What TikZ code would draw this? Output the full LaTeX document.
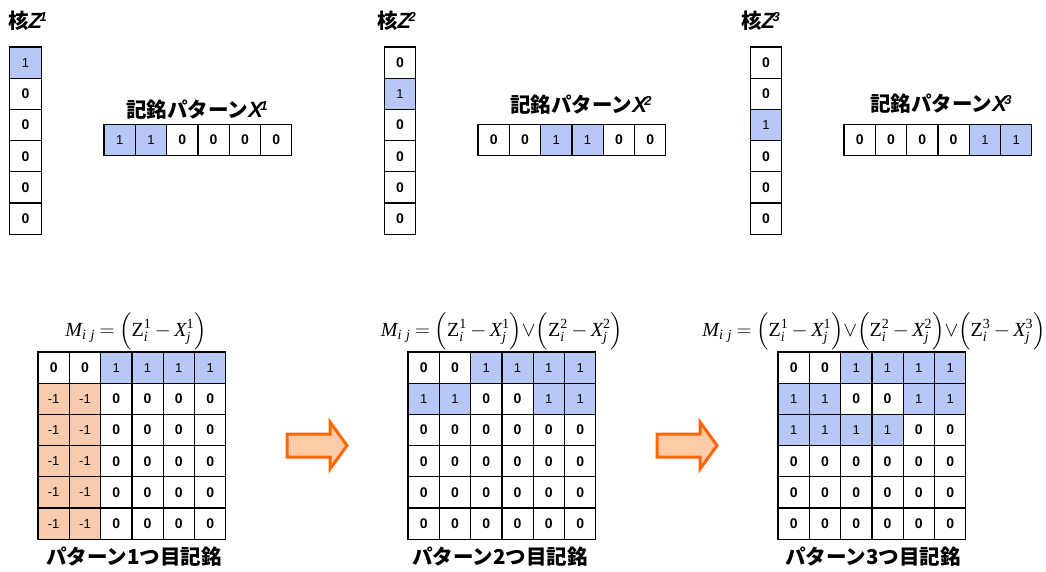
\documentclass[tikz,border=0pt]{standalone}
\usepackage{fontspec}
\usepackage{amsmath}
\usepackage{graphicx}
\setmainfont{Liberation Sans}
\newfontfamily\jp{Noto Sans CJK JP}
\newfontfamily\tms{Liberation Serif}
\usetikzlibrary{positioning}

\definecolor{cellblue}{RGB}{183,199,246}
\definecolor{cellorange}{RGB}{248,203,173}
\definecolor{arrowline}{RGB}{255,102,0}
\definecolor{arrowfill}{RGB}{255,204,170}

% bold italic letter with superscript
\newcommand{\vecsym}[2]{{\rmfamily\bfseries\itshape\fontsize{22}{22}\selectfont #1}\kern-2.5pt\raisebox{7pt}{\rmfamily\bfseries\itshape\fontsize{13}{13}\selectfont #2}}
% formula pieces
\newcommand{\iv}[1]{\text{\itshape #1}}
\newcommand{\zx}[1]{\Bigl(\text{Z}_{\iv{i}}^{\text{#1}}-\iv{X}_{\iv{j}}^{\text{#1}}\Bigr)}
\newcommand{\mspacing}{\thickmuskip=4mu\relax\medmuskip=3mu\relax}

\begin{document}
\begin{tikzpicture}[x=1pt,y=-1pt,
    cell/.style={draw,shape=rectangle,line width=1.2pt,minimum width=31.3pt,minimum height=31.2pt,inner sep=0pt,fill=white},
    is 0/.style={font=\fontsize{14}{14}\selectfont\bfseries},
    is 1/.style={fill=cellblue,font=\fontsize{13}{13}\selectfont},
    is -1/.style={fill=cellorange,font=\fontsize{13}{13}\selectfont},
    title/.style={font=\fontsize{20.5}{20.5}\selectfont\jp\bfseries,inner sep=0pt},
    formula/.style={font=\fontsize{20}{20}\selectfont\tms,inner sep=0pt},
    bigarrow/.style={draw=arrowline,fill=arrowfill,line width=3pt,line join=miter}]
    \useasboundingbox (0,0) rectangle (1046,572);

    % kernels
    \node[title,anchor=west] (t1) at (8,21) {核\vecsym{Z}{1}};
    \node[title,anchor=west] (t2) at (377,21) {核\vecsym{Z}{2}};
    \node[title,anchor=west] (t3) at (741,21) {核\vecsym{Z}{3}};
    \foreach \v [count=\i] in {1,0,0,0,0,0}
        \node[cell,is \v] (z1-\i) at (25.5,{62.6+31.2*(\i-1)}) {\v};
    \foreach \v [count=\i] in {0,1,0,0,0,0}
        \node[cell,is \v] (z2-\i) at (400,{62.6+31.2*(\i-1)}) {\v};
    \foreach \v [count=\i] in {0,0,1,0,0,0}
        \node[cell,is \v] (z3-\i) at (766,{62.6+31.2*(\i-1)}) {\v};

    % patterns
    \node[title] (l1) at (197,110) {記銘パターン\vecsym{X}{1}};
    \node[title] (l2) at (581,105) {記銘パターン\vecsym{X}{2}};
    \node[title] (l3) at (941,104) {記銘パターン\vecsym{X}{3}};
    \foreach \v [count=\i] in {1,1,0,0,0,0}
        \node[cell,is \v] (x1-\i) at ({119.7+31.3*(\i-1)},140) {\v};
    \foreach \v [count=\i] in {0,0,1,1,0,0}
        \node[cell,is \v] (x2-\i) at ({493.7+31.3*(\i-1)},140) {\v};
    \foreach \v [count=\i] in {0,0,0,0,1,1}
        \node[cell,is \v] (x3-\i) at ({859.7+31.3*(\i-1)},140) {\v};

    % memory matrices
    \node[formula] (f1) at (136,331) {$\mspacing\iv{M}_{\iv{i\,\,j}}=\zx{1}$};
    \node[formula] (f2) at (502,331) {$\mspacing\iv{M}_{\iv{i\,\,j}}=\zx{1}{\vee}\zx{2}$};
    \node[formula] (f3) at (874,331) {$\mspacing\iv{M}_{\iv{i\,\,j}}=\zx{1}{\vee}\zx{2}{\vee}\zx{3}$};
    \foreach \row [count=\r] in {{0,0,1,1,1,1},{-1,-1,0,0,0,0},{-1,-1,0,0,0,0},{-1,-1,0,0,0,0},{-1,-1,0,0,0,0},{-1,-1,0,0,0,0}}
        \foreach \v [count=\c] in \row
            \node[cell,is \v] (m1-\r-\c) at ({53.65+31.3*(\c-1)},{367.6+31.2*(\r-1)}) {\v};
    \foreach \row [count=\r] in {{0,0,1,1,1,1},{1,1,0,0,1,1},{0,0,0,0,0,0},{0,0,0,0,0,0},{0,0,0,0,0,0},{0,0,0,0,0,0}}
        \foreach \v [count=\c] in \row
            \node[cell,is \v] (m2-\r-\c) at ({423.65+31.3*(\c-1)},{367.6+31.2*(\r-1)}) {\v};
    \foreach \row [count=\r] in {{0,0,1,1,1,1},{1,1,0,0,1,1},{1,1,1,1,0,0},{0,0,0,0,0,0},{0,0,0,0,0,0},{0,0,0,0,0,0}}
        \foreach \v [count=\c] in \row
            \node[cell,is \v] (m3-\r-\c) at ({793.65+31.3*(\c-1)},{367.6+31.2*(\r-1)}) {\v};
    \node[title] (c1) at (134,557) {パターン1つ目記銘};
    \node[title] (c2) at (500,557) {パターン2つ目記銘};
    \node[title] (c3) at (873,557) {パターン3つ目記銘};

    \draw[bigarrow] (287,434) -- (330,434) -- (330,422) -- (347,445.5) -- (330,469) -- (330,457) -- (287,457) -- cycle;
    \draw[bigarrow] (657,434) -- (700,434) -- (700,422) -- (717,445.5) -- (700,469) -- (700,457) -- (657,457) -- cycle;
\end{tikzpicture}
\end{document}
